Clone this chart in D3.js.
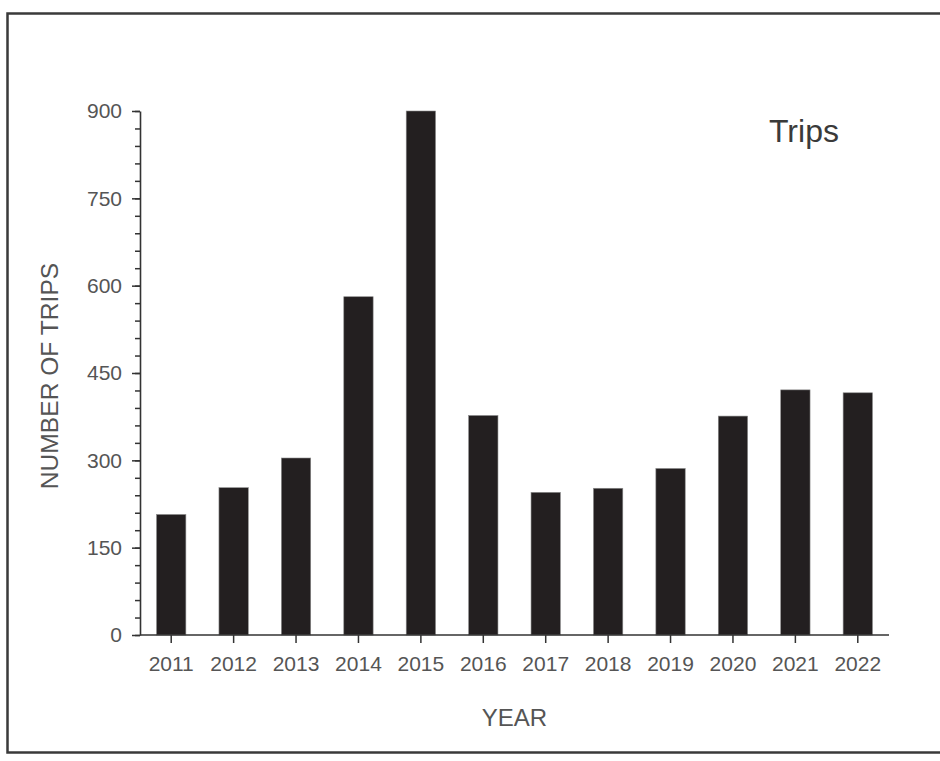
<!DOCTYPE html>
<html><head><meta charset="utf-8">
<script src="https://cdn.jsdelivr.net/npm/d3@7"></script>
<style>body{margin:0;background:#fff;}svg{display:block;font-family:"Liberation Sans",Arial,sans-serif;}</style>
</head><body>
<svg id="chart" width="940" height="761"></svg>
<script>
const years = ["2011","2012","2013","2014","2015","2016","2017","2018","2019","2020","2021","2022"];
const trips = [207, 253, 304, 581, 900, 377, 245, 252, 286, 376, 421, 416];
const yTicks = [0, 150, 300, 450, 600, 750, 900];
const yMinorTicks = d3.range(0, 901, 30);

const svg = d3.select("#chart");
const textColor = "#555";
const axisColor = "#333";

// outer frame
svg.append("rect").attr("x", 7.5).attr("y", 13.5).attr("width", 940).attr("height", 739)
  .attr("fill", "none").attr("stroke", "#3a3a3a").attr("stroke-width", 2.5);

const x = d3.scaleBand().domain(years).range([140, 889]).paddingInner(0.53).paddingOuter(0.265);
const y = d3.scaleLinear().domain([0, 900]).range([635, 111]);

// bars
svg.append("g").selectAll("rect").data(years).join("rect")
  .attr("x", d => x(d)).attr("width", x.bandwidth())
  .attr("y", (d, i) => y(trips[i])).attr("height", (d, i) => y(0) - y(trips[i]))
  .attr("fill", "#231f20").attr("stroke", "#8a8a8a").attr("stroke-width", 0.6);

// y axis minor ticks
svg.append("g").attr("transform", "translate(140,0)")
  .call(d3.axisLeft(y).tickValues(yMinorTicks).tickSize(5).tickFormat(""))
  .call(g => g.select(".domain").remove())
  .call(g => g.selectAll("line").attr("stroke", axisColor).attr("stroke-width", 1.5));

// y axis major
const yAxis = svg.append("g").attr("transform", "translate(140,0)")
  .call(d3.axisLeft(y).tickValues(yTicks).tickSize(8).tickSizeOuter(0).tickPadding(10).tickFormat(d3.format("d")));
yAxis.select(".domain").attr("stroke", axisColor).attr("stroke-width", 1.6);
yAxis.selectAll("line").attr("stroke", axisColor).attr("stroke-width", 1.5);
yAxis.selectAll("text").attr("fill", textColor).style("font-size", "21px").style("font-family", "Liberation Sans, Arial, sans-serif");

// x axis
const xAxis = svg.append("g").attr("transform", "translate(0,635)")
  .call(d3.axisBottom(x).tickSize(8).tickSizeOuter(0).tickPadding(13));
xAxis.select(".domain").attr("stroke", axisColor).attr("stroke-width", 1.6).attr("d", "M140,0H889");
xAxis.selectAll("line").attr("stroke", axisColor).attr("stroke-width", 1.5);
xAxis.selectAll("text").attr("fill", textColor).style("font-size", "21px").style("font-family", "Liberation Sans, Arial, sans-serif");

// axis titles
svg.append("text").attr("x", 514.5).attr("y", 726).attr("text-anchor", "middle")
  .attr("fill", textColor).style("font-size", "24px").text("YEAR");
svg.append("text").attr("transform", "translate(57.5,376) rotate(-90)").attr("text-anchor", "middle")
  .attr("fill", textColor).style("font-size", "24.6px").text("NUMBER OF TRIPS");

// legend-like label
svg.append("text").attr("x", 769).attr("y", 141.5).attr("fill", "#3a3a3a")
  .style("font-size", "32px").text("Trips");
</script>
</body></html>
